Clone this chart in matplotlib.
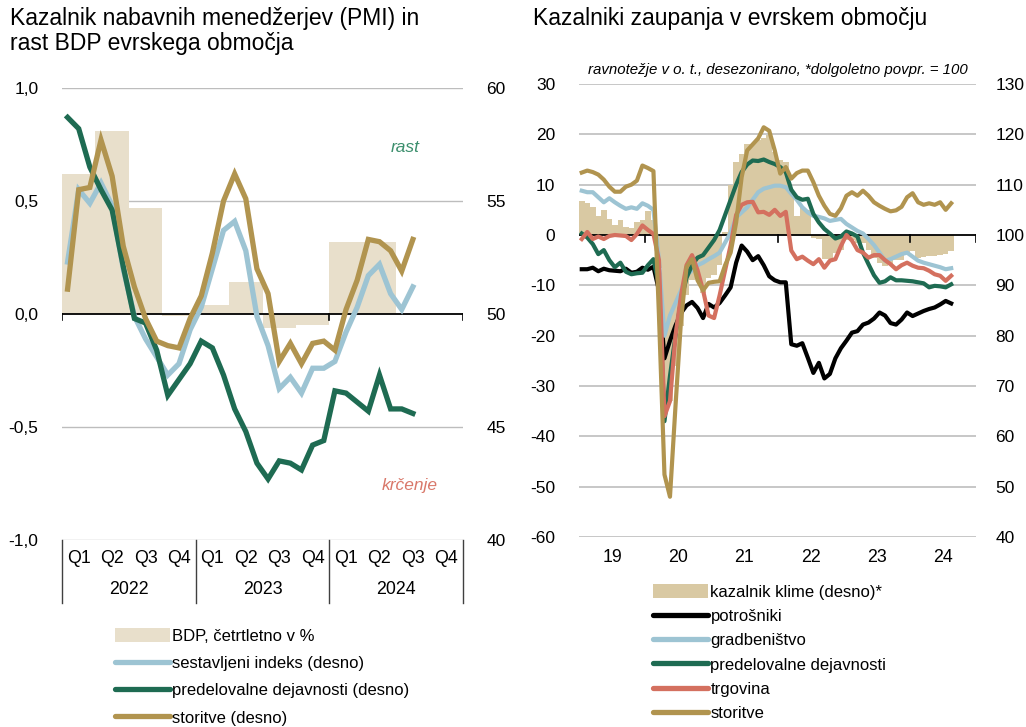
import numpy as np
import matplotlib
matplotlib.use('Agg')
import matplotlib.pyplot as plt
import matplotlib.transforms as mtransforms
from matplotlib import font_manager
from matplotlib.lines import Line2D
from matplotlib.patches import Patch

plt.rcParams['font.family'] = ['Liberation Sans', 'DejaVu Sans']
names = {f.name for f in font_manager.fontManager.ttflist}
leg_font = 'Liberation Sans Narrow' if 'Liberation Sans Narrow' in names else 'Liberation Sans'

# ---- levi graf: PMI in BDP ----
leta = ['2022', '2023', '2024']
cetrtletja = ['Q1', 'Q2', 'Q3', 'Q4']
bdp = [0.62, 0.81, 0.47, -0.01, 0.04, 0.14, -0.06, -0.05, 0.32, 0.32]
# mesecno jan 2022 - avg 2024
pmi_sest = [52.3, 55.5, 54.9, 55.8, 54.8, 52.0, 49.9, 48.9, 48.1, 47.3, 47.8, 49.3,
            50.3, 52.0, 53.7, 54.1, 52.8, 49.9, 48.6, 46.7, 47.2, 46.5, 47.6, 47.6,
            47.9, 49.2, 50.3, 51.7, 52.2, 50.9, 50.2, 51.2]
pmi_pred = [58.7, 58.2, 56.5, 55.5, 54.6, 52.1, 49.8, 49.6, 48.4, 46.4, 47.1, 47.8,
            48.8, 48.5, 47.3, 45.8, 44.8, 43.4, 42.7, 43.5, 43.4, 43.1, 44.2, 44.4,
            46.6, 46.5, 46.1, 45.7, 47.3, 45.8, 45.8, 45.6]
pmi_stor = [51.1, 55.5, 55.6, 57.7, 56.1, 53.0, 51.2, 49.8, 48.8, 48.6, 48.5, 49.8,
            50.8, 52.7, 55.0, 56.2, 55.1, 52.0, 50.9, 47.9, 48.7, 47.8, 48.7, 48.8,
            48.4, 50.2, 51.5, 53.3, 53.2, 52.8, 51.9, 53.3]

# ---- desni graf: kazalniki zaupanja, mesecno jan 2019 - avg 2024 ----
leta_d = ['19', '20', '21', '22', '23', '24']
potrosniki = [-6.8, -6.8, -6.5, -7.2, -6.7, -7.0, -7.1, -7.2, -6.7, -7.5, -7.3, -6.5, -6.9, -6.3,
              -11, -24.5, -21, -18, -15.5, -14, -13.3, -14.5, -16.5, -13.7, -14.4, -13.5, -12, -10.4,
              -5.5, -2.1, -3.3, -5.0, -4.2, -6.0, -8.2, -9.0, -9.4, -9.4, -21.7, -22, -21.5, -24.4,
              -27.4, -25.4, -28.5, -27.6, -24.5, -22.5, -21.0, -19.4, -19.1, -17.8, -17.4, -16.6, -15.4, -16.0,
              -17.5, -17.8, -16.8, -15.4, -16.1, -15.6, -15.1, -14.7, -14.4, -13.8, -13.1, -13.6]
gradbenistvo = [8.8, 8.5, 8.5, 7.5, 6.5, 7.3, 6.5, 5.8, 5.2, 5.5, 5.2, 6.3, 5.8, 5.0,
                -5, -20, -16, -13.5, -11, -8, -7, -6, -5.5, -4.8, -4.2, -3.5, -1.5, 0.5,
                3.5, 4.5, 5.5, 7.0, 8.5, 9.2, 9.5, 9.8, 9.8, 9.5, 8.2, 7.0, 5.5, 4.5,
                3.8, 3.6, 3.3, 2.8, 3.0, 3.2, 2.2, 1.5, 0.8, 0.3, -0.8, -2.0, -3.5, -5.1,
                -4.8, -4.3, -3.8, -3.5, -4.3, -5.1, -5.5, -5.8, -6.1, -6.4, -6.8, -6.6]
predelovalne = [0.3, -0.5, -1.8, -3.8, -3.0, -5.0, -6.4, -5.5, -7.3, -7.8, -7.6, -7.5, -6.0, -4.8,
                -10, -37, -28, -20, -13, -8.5, -6, -4.5, -4, -2.5, -1, 1, 4, 7,
                10, 12.5, 14, 14.8, 14.7, 15.0, 14.5, 14.1, 13.5, 12.5, 9, 7.5, 7.0, 7.2,
                4.2, 2.5, 1.2, 0.3, -0.7, -0.3, 0.7, 0.3, -0.3, -3.5, -5.8, -8.0, -9.5, -9.2,
                -8.4, -9.0, -9.0, -9.1, -9.2, -9.4, -9.6, -10.4, -10.1, -10.2, -10.4, -9.8]
trgovina = [-0.8, 0.6, -0.8, -0.3, -0.8, -0.2, 0.0, -0.1, -0.2, -1.0, 0.2, 1.9, 1.0, 0.2,
            -5, -36, -33, -20, -12, -6, -4, -7, -11, -16, -16.5, -12, -7, -2,
            4, 6, 6.5, 6.6, 4.5, 4.6, 4.0, 5.0, 3.8, 4.6, -3.1, -4.8, -4.3, -5.1,
            -5.8, -4.8, -6.5, -5.1, -4.8, -2.2, 0.0, -1.1, -3.0, -3.5, -4.5, -4.0, -4.0, -5.0,
            -5.8, -6.8, -6.0, -5.5, -6.1, -6.5, -6.6, -7.1, -7.8, -8.1, -9.1, -8.1]
storitve = [12.4, 12.8, 12.5, 12.0, 11.0, 9.6, 8.6, 8.6, 9.6, 10.0, 10.8, 13.8, 13.3, 12.7,
            -16, -47.6, -52, -34, -17, -6.4, -4.8, -9, -11, -9.5, -9.3, -9.2, -6, -3.5,
            2.5, 11.5, 16.8, 18.0, 19.2, 21.4, 20.7, 16.8, 12.2, 13.5, 11.2, 12.3, 12.8, 12.8,
            10.5, 7.8, 5.8, 4.2, 3.8, 5.3, 7.8, 8.5, 7.8, 8.8, 7.8, 6.5, 5.8, 5.2,
            4.7, 4.9, 5.6, 7.5, 8.3, 6.5, 6.0, 6.3, 6.0, 6.5, 5.0, 6.3]
klima = [106.7, 106.3, 105.5, 103.8, 105.0, 103.2, 101.9, 102.9, 101.5, 101.4, 102.5, 102.9, 104.7, 103.0,
         93.5, 64.0, 67.0, 74.0, 82.0, 88.0, 91.0, 91.2, 88.5, 91.5, 92.0, 94.0, 100.5, 110.0,
         114.5, 116.1, 118.1, 118.1, 118.8, 119.2, 119.8, 116.5, 115.0, 114.5, 108.5, 103.8, 105.5, 105.0,
         99.5, 99.3, 95.3, 95.3, 96.5, 97.0, 99.0, 99.0, 98.5, 98.5, 97.0, 95.5, 94.5, 93.9,
         94.0, 95.0, 95.0, 96.2, 96.9, 95.5, 95.7, 95.9, 95.9, 96.0, 96.2, 96.9]

c_tan_l = '#E8DFCB'
c_tan_r = '#D9C9A3'
c_blue = '#9DC4D3'
c_green = '#1E6B52'
c_gold = '#B1944F'
c_red = '#D4705F'
c_grid = '#BDBDBD'

W, H = 1026, 727
fig = plt.figure(figsize=(W / 100, H / 100), dpi=100)


def komma(v, dec=1):
    return f'{v:.{dec}f}'.replace('.', ',')


# ================= levi graf =================
ax = fig.add_axes([62 / W, 1 - 540 / H, 401 / W, 452 / H])
n_q = len(leta) * len(cetrtletja)
ax.set_xlim(0, n_q)
ax.set_ylim(-1, 1)
ax.bar(np.arange(len(bdp)) + 0.5, bdp, width=1.0, color=c_tan_l, zorder=1)
for yv in [1, 0.5, -0.5, -1]:
    ax.axhline(yv, color=c_grid, lw=1, zorder=0)
ax.axhline(0, color='black', lw=1.3, zorder=3)
for xb in range(0, n_q + 1, 4):
    ax.plot([xb, xb], [0, -0.027], color='black', lw=1.2, zorder=3)
lt = [-1, -0.5, 0, 0.5, 1]
ax.set_yticks(lt, [komma(v) for v in lt])
ax.set_xticks([])
ax.tick_params(axis='y', length=0, labelsize=12.5, pad=17)
for s in ax.spines.values():
    s.set_visible(False)

tr = mtransforms.blended_transform_factory(ax.transData, ax.transAxes)
for q in range(n_q):
    ax.text(q + 0.5, -0.040, cetrtletja[q % 4], transform=tr, ha='center', va='center', fontsize=12.8)
for j, leto in enumerate(leta):
    ax.text(4 * j + 2, -0.110, leto, transform=tr, ha='center', va='center', fontsize=12.8)
for xb in range(0, n_q + 1, 4):
    ax.plot([xb, xb], [0, -0.139], transform=tr, color='#404040', lw=1, clip_on=False)

ax2 = ax.twinx()
ax2.set_ylim(40, 60)
rt = [40, 45, 50, 55, 60]
ax2.set_yticks(rt, [str(v) for v in rt])
ax2.tick_params(axis='y', length=0, labelsize=12.5, pad=17)
for s in ax2.spines.values():
    s.set_visible(False)
mx = (np.arange(len(pmi_sest)) + 0.5) / 3
ax2.plot(mx, pmi_sest, color=c_blue, lw=3.8, solid_joinstyle='miter')
ax2.plot(mx, pmi_pred, color=c_green, lw=3.8, solid_joinstyle='miter')
ax2.plot(mx, pmi_stor, color=c_gold, lw=3.8, solid_joinstyle='miter')
ax2.text(10.26, 57.35, 'rast', color='#3C8F6D', style='italic', fontsize=12.5, ha='center', va='center')
ax2.text(10.4, 42.4, 'krčenje', color='#D9786A', style='italic', fontsize=12.5, ha='center', va='center')

fig.text(10 / W, 1 - 7 / H, 'Kazalnik nabavnih menedžerjev (PMI) in\nrast BDP evrskega območja',
         fontsize=16.5, va='top', ha='left', linespacing=1.12)

h_l = [Patch(facecolor=c_tan_l, edgecolor='none'),
       Line2D([], [], color=c_blue, lw=3.8, solid_capstyle='round'),
       Line2D([], [], color=c_green, lw=3.8, solid_capstyle='round'),
       Line2D([], [], color=c_gold, lw=3.8, solid_capstyle='round')]
lab_l = ['BDP, četrtletno v %', 'sestavljeni indeks (desno)',
         'predelovalne dejavnosti (desno)', 'storitve (desno)']
fig.legend(h_l, lab_l, loc='upper left', bbox_to_anchor=(115 / W, 1 - 628 / H), frameon=False,
           borderaxespad=0, borderpad=0, handlelength=3.3, handleheight=0.9, handletextpad=0.15,
           labelspacing=0.7, prop={'family': [leg_font, 'DejaVu Sans'], 'size': 12})

# ================= desni graf =================
axr = fig.add_axes([579 / W, 1 - 537 / H, 397 / W, 453 / H])
axb = axr.twinx()
axr.set_zorder(axb.get_zorder() + 1)
axr.patch.set_visible(False)

n_m = 12 * len(leta_d)
axr.set_xlim(0, n_m)
axr.set_ylim(-60, 30)
axb.set_ylim(40, 130)
x = np.arange(len(klima)) + 0.5
kl = np.array(klima)
axb.bar(x, kl - 100, bottom=100, width=1.0, color=c_tan_r, zorder=2)
for yv in range(40, 131, 10):
    if yv != 100:
        axb.axhline(yv, color=c_grid, lw=1.2, zorder=1)
axr.axhline(0, color='black', lw=1.3, zorder=2)
for xb in [12, 36, 60, 72]:
    axr.plot([xb, xb], [0, -1.4], color='black', lw=1.2, zorder=2)

axr.plot(x, potrosniki, color='black', lw=3.0, zorder=3)
axr.plot(x, gradbenistvo, color=c_blue, lw=3.0, zorder=3)
axr.plot(x, predelovalne, color=c_green, lw=3.0, zorder=3)
axr.plot(x, trgovina, color=c_red, lw=3.0, zorder=3)
axr.plot(x, storitve, color=c_gold, lw=3.0, zorder=3)

lt_r = list(range(-60, 31, 10))
axr.set_yticks(lt_r, [str(v) for v in lt_r])
axr.set_xticks(np.arange(len(leta_d)) * 12 + 6, leta_d)
axr.tick_params(axis='y', length=0, labelsize=12.5, pad=17)
axr.tick_params(axis='x', length=0, labelsize=12.8, pad=9)
rt_r = list(range(40, 131, 10))
axb.set_yticks(rt_r, [str(v) for v in rt_r])
axb.tick_params(axis='y', length=0, labelsize=12.5, pad=14)
for a in (axr, axb):
    for s in a.spines.values():
        s.set_visible(False)

axr.text(0.5, 1 + 14 / 453, 'ravnotežje v o. t., desezonirano, *dolgoletno povpr. = 100',
         transform=axr.transAxes, ha='center', va='center', style='italic', fontsize=10.8)
fig.text(533 / W, 1 - 7 / H, 'Kazalniki zaupanja v evrskem območju',
         fontsize=16.5, va='top', ha='left')

h_r = [Patch(facecolor=c_tan_r, edgecolor='none'),
       Line2D([], [], color='black', lw=3.8, solid_capstyle='round'),
       Line2D([], [], color=c_blue, lw=3.8, solid_capstyle='round'),
       Line2D([], [], color=c_green, lw=3.8, solid_capstyle='round'),
       Line2D([], [], color=c_red, lw=3.8, solid_capstyle='round'),
       Line2D([], [], color=c_gold, lw=3.8, solid_capstyle='round')]
lab_r = ['kazalnik klime (desno)*', 'potrošniki', 'gradbeništvo',
         'predelovalne dejavnosti', 'trgovina', 'storitve']
fig.legend(h_r, lab_r, loc='upper left', bbox_to_anchor=(653 / W, 1 - 584 / H), frameon=False,
           borderaxespad=0, borderpad=0, handlelength=3.3, handleheight=0.9, handletextpad=0.15,
           labelspacing=0.52, prop={'family': [leg_font, 'DejaVu Sans'], 'size': 12})

fig.savefig('out.png', dpi=100)
